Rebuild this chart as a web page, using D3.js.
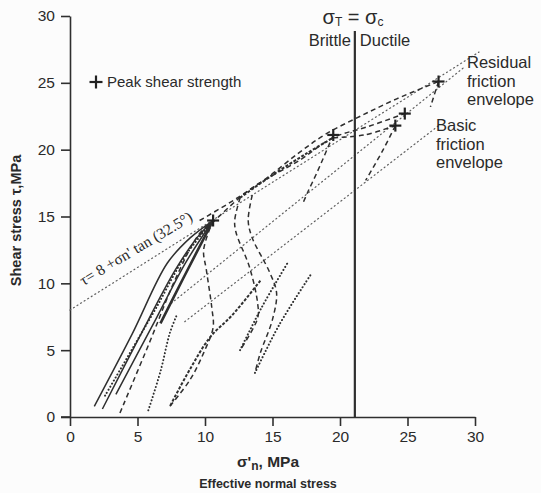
<!DOCTYPE html>
<html>
<head>
<meta charset="utf-8">
<script src="https://cdn.jsdelivr.net/npm/d3@7"></script>
<style>
  html, body { margin: 0; padding: 0; background: #fcfcfc; }
  svg { display: block; }
  text { fill: #2a2a2a; }
</style>
</head>
<body>
<svg id="chart" width="541" height="493"></svg>
<script>
// Axis ticks
const xTicks = [0, 5, 10, 15, 20, 25, 30];
const yTicks = [0, 5, 10, 15, 20, 25, 30];

// Brittle/ductile transition (effective normal stress, MPa)
const transitionSigma = 21.1;

// Friction envelopes: tau = c + sigma * slope
const upperEnvelope = { c: 8, angle: 32.5, from: 0, to: 30.3 };
const residualEnvelope = { c: 2.4, slope: 0.814, from: 7.5, to: 29.2 };
const basicEnvelope = { c: 0.5, slope: 0.78, from: 8.5, to: 27.4 };

// Peak shear strengths [sigma'n, tau]
const peaks = [[10.6, 14.7], [19.5, 21.1], [24.1, 21.8], [24.8, 22.7], [27.3, 25.1]];

// Stress paths [sigma'n, tau], grouped by line style
const solidPaths = [
  [[1.8, 0.8], [4.6, 6.2], [7.2, 11.5], [8.9, 13.4], [10.6, 14.7]],
  [[2.4, 0.6], [5.1, 5.9], [7.8, 11.0], [9.4, 13.4], [10.6, 14.7]],
  [[3.4, 1.7], [6.4, 7.4], [8.6, 11.6], [10.6, 14.7]]
];
const thickPaths = [
  [[6.7, 7.0], [8.4, 10.4], [10.6, 14.7]]
];
const dashedPaths = [
  [[3.7, 0.3], [5.9, 5.6], [7.8, 10.3], [9.5, 13.6], [10.6, 14.7]],
  [[7.4, 0.8], [8.9, 2.8], [9.9, 4.8], [10.6, 6.7], [10.5, 8.2], [10.1, 11.0], [9.9, 12.5], [10.6, 14.7]],
  [[9.6, 14.7], [12.1, 16.2], [14.6, 17.9], [17.0, 19.8], [19.0, 21.2], [21.5, 22.5], [24.2, 23.8], [27.3, 25.1]],
  [[9.6, 13.6], [13.3, 17.0], [17.0, 19.2], [19.5, 20.9], [22.0, 21.7], [24.8, 22.7]],
  [[19.5, 20.9], [21.8, 21.1], [24.1, 21.8]],
  [[19.5, 21.1], [18.3, 18.3], [17.6, 16.8], [17.3, 16.1]],
  [[24.1, 21.8], [23.2, 20.0], [21.9, 17.7]],
  [[27.3, 25.1], [26.7, 23.2]],
  [[13.5, 16.6], [13.2, 14.7], [13.5, 13.4], [14.8, 10.8], [15.3, 9.3], [15.0, 7.3], [14.1, 4.8], [13.7, 3.3]],
  [[12.6, 16.4], [12.2, 14.7], [12.3, 13.8], [13.3, 11.2], [13.9, 8.5], [13.9, 7.4], [12.6, 5.0]]
];
const chainPaths = [
  [[12.6, 16.4], [15.0, 18.1], [17.5, 19.7], [19.5, 20.9]],
  [[14.1, 10.2], [12.0, 7.6], [10.4, 6.0], [8.9, 3.6], [7.4, 0.8]]
];
const dottedPaths = [
  [[2.6, 1.6], [4.5, 4.9], [6.4, 8.2], [8.5, 12.0], [10.6, 14.7]],
  [[5.8, 0.5], [6.7, 3.4], [7.4, 6.3], [7.9, 7.6]],
  [[12.6, 5.0], [14.2, 8.2], [16.1, 11.5]],
  [[13.7, 3.3], [15.5, 6.9], [17.8, 10.6]]
];

const svg = d3.select("#chart");

const x = d3.scaleLinear().domain([0, 30]).range([70, 475]);
const y = d3.scaleLinear().domain([0, 30]).range([417, 16]);

const ink = "#2f2f2f";
const fontSans = "'Liberation Sans', Arial, Helvetica, sans-serif";

// Axes
const xAxis = d3.axisBottom(x).tickValues(xTicks).tickSize(9).tickPadding(5).tickSizeOuter(0);
const yAxis = d3.axisLeft(y).tickValues(yTicks).tickSize(9).tickPadding(6).tickSizeOuter(0);

const gx = svg.append("g").attr("transform", `translate(0,${y(0)})`).call(xAxis);
const gy = svg.append("g").attr("transform", `translate(${x(0)},0)`).call(yAxis);
[gx, gy].forEach(g => {
  g.select(".domain").attr("stroke", ink).attr("stroke-width", 1.6);
  g.selectAll(".tick line").attr("stroke", ink).attr("stroke-width", 1.6);
  g.selectAll(".tick text")
    .attr("font-family", fontSans).attr("font-size", 15.5).attr("fill", "#333");
});
// x-axis baseline continues left to meet the zero tick
svg.append("line")
  .attr("x1", x(0) - 9).attr("x2", x(0))
  .attr("y1", y(0)).attr("y2", y(0))
  .attr("stroke", ink).attr("stroke-width", 1.6);

// Axis titles
svg.append("text")
  .attr("transform", `translate(21,${(y(0) + y(30)) / 2 + 4}) rotate(-90)`)
  .attr("text-anchor", "middle")
  .attr("font-family", fontSans).attr("font-weight", "bold").attr("font-size", 14.5)
  .text("Shear stress  τ,MPa");

const xt = svg.append("text")
  .attr("x", 268).attr("y", 467)
  .attr("text-anchor", "middle")
  .attr("font-family", fontSans).attr("font-weight", "bold").attr("font-size", 15.5);
xt.append("tspan").text("σ'");
xt.append("tspan").attr("font-size", 12).attr("dy", 3).text("n");
xt.append("tspan").attr("dy", -3).text(", MPa");

svg.append("text")
  .attr("x", 268).attr("y", 488)
  .attr("text-anchor", "middle")
  .attr("font-family", fontSans).attr("font-weight", "bold").attr("font-size", 12.5)
  .text("Effective normal stress");

// Envelopes
const envStyle = sel => sel
  .attr("stroke", "#5e5e5e").attr("stroke-width", 1.2)
  .attr("stroke-dasharray", "1,3.2").attr("stroke-linecap", "round").attr("fill", "none");

const upSlope = Math.tan(upperEnvelope.angle * Math.PI / 180);
svg.append("line")
  .attr("x1", x(upperEnvelope.from)).attr("y1", y(upperEnvelope.c + upSlope * upperEnvelope.from))
  .attr("x2", x(upperEnvelope.to)).attr("y2", y(upperEnvelope.c + upSlope * upperEnvelope.to))
  .call(envStyle);
[residualEnvelope, basicEnvelope].forEach(e => {
  svg.append("line")
    .attr("x1", x(e.from)).attr("y1", y(e.c + e.slope * e.from))
    .attr("x2", x(e.to)).attr("y2", y(e.c + e.slope * e.to))
    .call(envStyle);
});

// Brittle / ductile transition line
svg.append("line")
  .attr("x1", x(transitionSigma)).attr("x2", x(transitionSigma))
  .attr("y1", 31).attr("y2", y(0))
  .attr("stroke", ink).attr("stroke-width", 2.2);

// Stress paths
const line = d3.line().x(d => x(d[0])).y(d => y(d[1])).curve(d3.curveCatmullRom.alpha(0.5));
const drawPaths = (data, stroke) => {
  svg.append("g").selectAll("path").data(data).join("path")
    .attr("d", line).attr("fill", "none").attr("stroke", ink)
    .each(function () { stroke(d3.select(this)); });
};
drawPaths(solidPaths, p => p.attr("stroke-width", 1.5));
drawPaths(thickPaths, p => p.attr("stroke-width", 2.6));
drawPaths(dashedPaths, p => p.attr("stroke-width", 1.5).attr("stroke-dasharray", "5,3.5"));
drawPaths(chainPaths, p => p.attr("stroke-width", 2).attr("stroke-dasharray", "3,1.6"));
drawPaths(dottedPaths, p => p.attr("stroke-width", 2).attr("stroke-dasharray", "0.1,3.4").attr("stroke-linecap", "round"));

// Peak markers
const cross = (g, cx, cy, r) => {
  g.append("line").attr("x1", cx - r).attr("x2", cx + r).attr("y1", cy).attr("y2", cy);
  g.append("line").attr("x1", cx).attr("x2", cx).attr("y1", cy - r).attr("y2", cy + r);
};
const gp = svg.append("g").attr("stroke", "#222").attr("stroke-width", 2.2);
peaks.forEach(p => cross(gp, x(p[0]), y(p[1]), 6));

// Legend
const gl = svg.append("g").attr("stroke", "#222").attr("stroke-width", 2.2);
cross(gl, 96, 82, 6.5);
svg.append("text").attr("x", 107).attr("y", 87)
  .attr("font-family", fontSans).attr("font-size", 15)
  .text("Peak shear strength");

// Envelope equation, written along the upper envelope
const eq = svg.append("text")
  .attr("transform", `translate(${x(1.0)},${y(9.8)}) rotate(-31)`)
  .attr("font-family", "'Liberation Serif', 'Times New Roman', serif").attr("font-size", 15.5);
eq.append("tspan").text("τ= 8 +σn' tan (32.5°)");

// Transition labels
const tl = svg.append("text").attr("x", 353).attr("y", 24)
  .attr("text-anchor", "middle").attr("font-family", fontSans).attr("font-size", 20);
tl.append("tspan").text("σ");
tl.append("tspan").attr("font-size", 12).attr("dy", 2).text("T");
tl.append("tspan").attr("dy", -2).text(" = σ");
tl.append("tspan").attr("font-size", 12).attr("dy", 2).text("c");

svg.append("text").attr("x", x(transitionSigma) - 4).attr("y", 46)
  .attr("text-anchor", "end").attr("font-family", fontSans).attr("font-size", 16.5).text("Brittle");
svg.append("text").attr("x", x(transitionSigma) + 5).attr("y", 46)
  .attr("text-anchor", "start").attr("font-family", fontSans).attr("font-size", 16.5).text("Ductile");

const envLabel = (lines, x0, y0) => {
  const t = svg.append("text").attr("x", x0).attr("y", y0)
    .attr("font-family", fontSans).attr("font-size", 16.5);
  lines.forEach((s, i) => t.append("tspan").attr("x", x0).attr("dy", i ? 18.5 : 0).text(s));
};
envLabel(["Residual", "friction", "envelope"], 467, 68);
envLabel(["Basic", "friction", "envelope"], 436, 131);
</script>
</body>
</html>
